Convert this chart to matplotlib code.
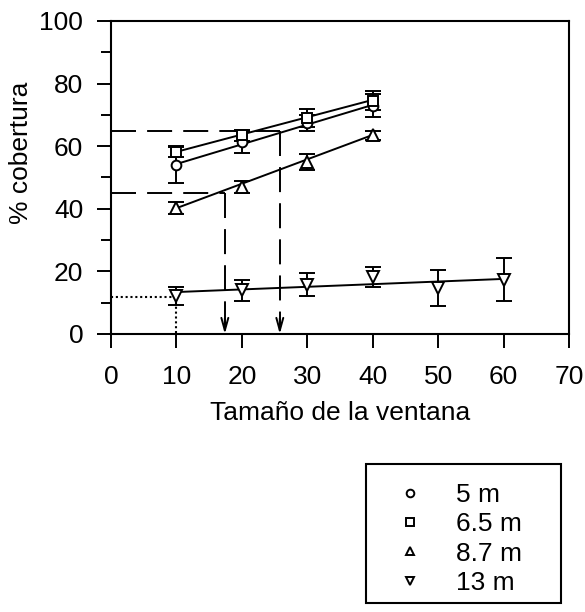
import matplotlib
matplotlib.use('Agg')
import matplotlib.pyplot as plt
from matplotlib.lines import Line2D
from matplotlib.patches import Rectangle

plt.rcParams['font.family'] = ['Liberation Sans', 'DejaVu Sans']
plt.rcParams['lines.scale_dashes'] = False

# window size (x) and % cover for each distance
window = [10, 20, 30, 40]
window_13 = [10, 20, 30, 40, 50, 60]
cov_5 = [54.0, 61.4, 67.5, 73.0]
err_5 = [5.7, 3.6, 2.5, 3.8]
cov_65 = [58.2, 63.5, 69.0, 74.6]
err_65 = [1.8, 1.8, 3.0, 3.0]
cov_87 = [40.2, 47.0, 55.0, 63.5]
err_87 = [2.0, 2.0, 2.5, 1.5]
cov_13 = [12.1, 13.9, 15.8, 18.1, 14.7, 17.4]
err_13 = [2.9, 3.4, 3.6, 3.2, 5.9, 6.8]

# regression lines (end points)
fit_x = [10, 40]
fit_5 = [54.3, 73.2]
fit_65 = [58.2, 74.8]
fit_87 = [40.2, 63.6]
fit_x13 = [10, 60]
fit_13 = [13.4, 17.6]

# guide lines: (cover level, window size)
guide_hi = (65, 25.8)
guide_lo = (45, 17.4)
guide_dot = (11.7, 10)

labels = ['5 m', '6.5 m', '8.7 m', '13 m']
markers = ['o', 's', '^', 'v']
msizes = [7, 6.5, 8, 8]

fig = plt.figure(figsize=(5.85, 6.12), dpi=100)
ax = fig.add_axes([111 / 585, 1 - 334 / 612, 458 / 585, 313 / 612])

series = [(window, cov_5, err_5, fit_x, fit_5),
          (window, cov_65, err_65, fit_x, fit_65),
          (window, cov_87, err_87, fit_x, fit_87),
          (window_13, cov_13, err_13, fit_x13, fit_13)]

for (xs, ys, es, fx, fy), m, ms in zip(series, markers, msizes):
    ax.plot(fx, fy, color='k', lw=1.4, zorder=2)
    ax.errorbar(xs, ys, yerr=es, fmt=m, ms=ms, mfc='white', mec='k', mew=1.4,
                ecolor='k', elinewidth=1.4, capsize=6, capthick=1.4, zorder=3)

# dashed guides with arrows
for level, xw in (guide_hi, guide_lo):
    ax.plot([0, xw], [level, level], color='k', lw=1.4, dashes=(18, 8), zorder=1)
    ax.plot([xw, xw], [level, 3], color='k', lw=1.4, dashes=(18, 8), zorder=1)
    ax.annotate('', xy=(xw, 0), xytext=(xw, 5),
                arrowprops=dict(arrowstyle='->,head_length=0.9,head_width=0.25',
                                color='k', lw=1.4, shrinkA=0, shrinkB=0))

lvl, xw = guide_dot
ax.plot([0, xw], [lvl, lvl], color='k', lw=1.5, ls=(0, (1.5, 2)), zorder=1)
ax.plot([xw, xw], [lvl, 0], color='k', lw=1.5, ls=(0, (1.5, 2)), zorder=1)

ax.set_xlim(0, 70)
ax.set_ylim(0, 100)
ax.set_xticks(range(0, 71, 10))
ax.set_yticks(range(0, 101, 20))
ax.set_yticks(range(10, 100, 20), minor=True)
ax.tick_params(axis='both', which='major', direction='out', length=10, width=1.4,
               labelsize=19)
ax.tick_params(axis='x', which='major', pad=12)
ax.tick_params(axis='y', which='major', pad=10)
ax.tick_params(axis='y', which='minor', direction='out', length=7, width=1.4)
for s in ax.spines.values():
    s.set_linewidth(1.5)

ax.set_xlabel('Tamaño de la ventana', fontsize=19)
ax.xaxis.set_label_coords(0.5, -0.214)
ax.set_ylabel('% cobertura', fontsize=19, va='center')
ax.yaxis.set_label_coords(-0.197, 0.578)

handles = [Line2D([], [], ls='none', marker=m, ms=5.5, mfc='white', mec='k', mew=1.4)
           for m in markers]
fig.legend(handles, labels, loc='upper left', bbox_to_anchor=(397 / 585, 1 - 483 / 612),
           frameon=False, borderpad=0, borderaxespad=0, handlelength=1.0,
           handletextpad=1.25, labelspacing=0.2, fontsize=19)
fig.add_artist(Rectangle((366 / 585, 1 - 603 / 612), 195 / 585, 139 / 612,
                         transform=fig.transFigure, fill=False, ec='k', lw=1.5))

fig.savefig('out.png', dpi=100)
